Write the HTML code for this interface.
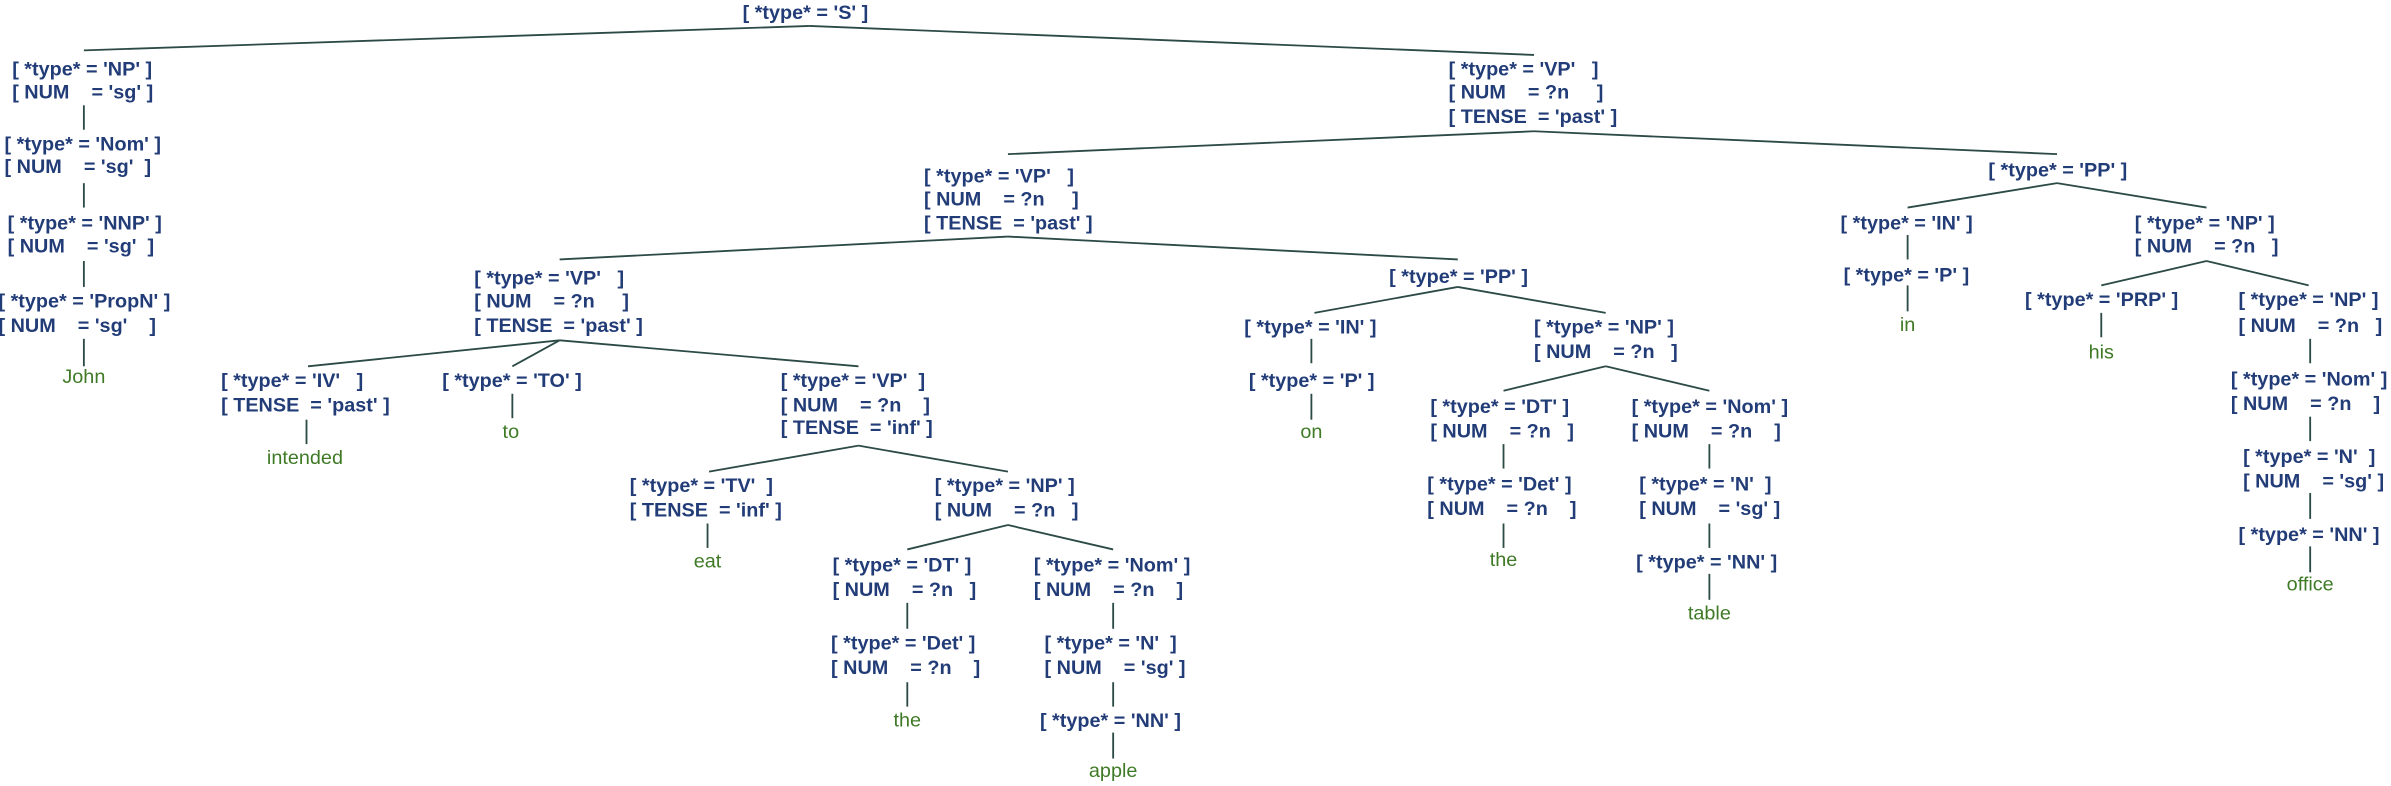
<!DOCTYPE html>
<html><head><meta charset="utf-8"><style>
html,body{margin:0;padding:0;background:#fff;}
svg{display:block;}
text{font-family:"Liberation Sans",Arial,sans-serif;font-weight:bold;font-size:13px;fill:#223c78;white-space:pre;}
text.l{font-weight:normal;fill:#3f7a26;text-anchor:middle;}
line{stroke:#2c4a46;stroke-width:1.2;}
</style></head><body>
<svg width="2391" height="786" viewBox="0 0 1568 515" preserveAspectRatio="none" xmlns="http://www.w3.org/2000/svg" xml:space="preserve">
<!-- connectors -->
<line x1="531" y1="17" x2="55" y2="33"/><line x1="531" y1="17" x2="1006" y2="36"/>
<line x1="55" y1="69" x2="55" y2="85"/><line x1="55" y1="120" x2="55" y2="136"/>
<line x1="55" y1="171" x2="55" y2="188"/><line x1="55" y1="222" x2="55" y2="240"/>
<line x1="1006" y1="86" x2="661" y2="101"/><line x1="1006" y1="86" x2="1349" y2="101"/>
<line x1="661" y1="155" x2="367" y2="170"/><line x1="661" y1="155" x2="956" y2="170"/>
<line x1="367" y1="223" x2="202" y2="240"/><line x1="367" y1="223" x2="336" y2="240"/><line x1="367" y1="223" x2="563" y2="240"/>
<line x1="201" y1="275" x2="201" y2="291"/><line x1="336" y1="258" x2="336" y2="274"/>
<line x1="563" y1="292" x2="465" y2="309"/><line x1="563" y1="292" x2="661" y2="309"/>
<line x1="464" y1="343" x2="464" y2="359"/>
<line x1="661" y1="344" x2="595" y2="360"/><line x1="661" y1="344" x2="730" y2="360"/>
<line x1="595" y1="395" x2="595" y2="412"/><line x1="595" y1="447" x2="595" y2="463"/>
<line x1="730" y1="395" x2="730" y2="412"/><line x1="730" y1="447" x2="730" y2="463"/><line x1="730" y1="480" x2="730" y2="497"/>
<line x1="956" y1="188" x2="862" y2="205"/><line x1="956" y1="188" x2="1053" y2="205"/>
<line x1="860" y1="222" x2="860" y2="238"/><line x1="860" y1="258" x2="860" y2="275"/>
<line x1="1053" y1="240" x2="986" y2="256"/><line x1="1053" y1="240" x2="1121" y2="256"/>
<line x1="986" y1="291" x2="986" y2="307"/><line x1="986" y1="343" x2="986" y2="359"/>
<line x1="1121" y1="291" x2="1121" y2="307"/><line x1="1121" y1="343" x2="1121" y2="359"/><line x1="1121" y1="376" x2="1121" y2="393"/>
<line x1="1349" y1="120" x2="1251" y2="136"/><line x1="1349" y1="120" x2="1447" y2="136"/>
<line x1="1251" y1="154" x2="1251" y2="170"/><line x1="1251" y1="187" x2="1251" y2="204"/>
<line x1="1447" y1="171" x2="1378" y2="187"/><line x1="1447" y1="171" x2="1514" y2="187"/>
<line x1="1378" y1="205" x2="1378" y2="221"/>
<line x1="1515" y1="222" x2="1515" y2="238"/><line x1="1515" y1="273" x2="1515" y2="289"/>
<line x1="1515" y1="323" x2="1515" y2="340"/><line x1="1515" y1="358" x2="1515" y2="375"/>

<!-- root -->
<text x="487" y="12.5">[ *type* = 'S' ]</text>
<!-- left chain -->
<text x="8" y="49.5">[ *type* = 'NP' ]</text><text x="8" y="64.5">[ NUM    = 'sg' ]</text>
<text x="3" y="98.5">[ *type* = 'Nom' ]</text><text x="3" y="113.5">[ NUM    = 'sg'  ]</text>
<text x="5" y="150.5">[ *type* = 'NNP' ]</text><text x="5" y="165.5">[ NUM    = 'sg'  ]</text>
<text x="-1" y="201.5">[ *type* = 'PropN' ]</text><text x="-1" y="217.5">[ NUM    = 'sg'    ]</text>
<text class="l" x="55" y="251">John</text>
<!-- VP top -->
<text x="950" y="49.5">[ *type* = 'VP'   ]</text><text x="950" y="64.5">[ NUM    = ?n     ]</text><text x="950" y="80.5">[ TENSE  = 'past' ]</text>
<!-- VP2 -->
<text x="606" y="119.5">[ *type* = 'VP'   ]</text><text x="606" y="134.5">[ NUM    = ?n     ]</text><text x="606" y="150.5">[ TENSE  = 'past' ]</text>
<!-- VP3 -->
<text x="311" y="186.5">[ *type* = 'VP'   ]</text><text x="311" y="201.5">[ NUM    = ?n     ]</text><text x="311" y="217.5">[ TENSE  = 'past' ]</text>
<!-- IV -->
<text x="145" y="253.5">[ *type* = 'IV'   ]</text><text x="145" y="269.5">[ TENSE  = 'past' ]</text>
<text class="l" x="200" y="304">intended</text>
<!-- TO -->
<text x="290" y="253.5">[ *type* = 'TO' ]</text>
<text class="l" x="335" y="287">to</text>
<!-- VP4 -->
<text x="512" y="253.5">[ *type* = 'VP'  ]</text><text x="512" y="269.5">[ NUM    = ?n    ]</text><text x="512" y="284.5">[ TENSE  = 'inf' ]</text>
<!-- TV -->
<text x="413" y="322.5">[ *type* = 'TV'  ]</text><text x="413" y="338.5">[ TENSE  = 'inf' ]</text>
<text class="l" x="464" y="372">eat</text>
<!-- NP -->
<text x="613" y="322.5">[ *type* = 'NP' ]</text><text x="613" y="338.5">[ NUM    = ?n   ]</text>
<text x="546" y="374.5">[ *type* = 'DT' ]</text><text x="546" y="390.5">[ NUM    = ?n   ]</text>
<text x="545" y="425.5">[ *type* = 'Det' ]</text><text x="545" y="441.5">[ NUM    = ?n    ]</text>
<text class="l" x="595" y="476">the</text>
<text x="678" y="374.5">[ *type* = 'Nom' ]</text><text x="678" y="390.5">[ NUM    = ?n    ]</text>
<text x="685" y="425.5">[ *type* = 'N'  ]</text><text x="685" y="441.5">[ NUM    = 'sg' ]</text>
<text x="682" y="476.5">[ *type* = 'NN' ]</text>
<text class="l" x="730" y="509">apple</text>
<!-- PP2 -->
<text x="911" y="185.5">[ *type* = 'PP' ]</text>
<text x="816" y="218.5">[ *type* = 'IN' ]</text>
<text x="819" y="253.5">[ *type* = 'P' ]</text>
<text class="l" x="860" y="287">on</text>
<text x="1006" y="218.5">[ *type* = 'NP' ]</text><text x="1006" y="234.5">[ NUM    = ?n   ]</text>
<text x="938" y="270.5">[ *type* = 'DT' ]</text><text x="938" y="286.5">[ NUM    = ?n   ]</text>
<text x="936" y="321.5">[ *type* = 'Det' ]</text><text x="936" y="337.5">[ NUM    = ?n    ]</text>
<text class="l" x="986" y="371">the</text>
<text x="1070" y="270.5">[ *type* = 'Nom' ]</text><text x="1070" y="286.5">[ NUM    = ?n    ]</text>
<text x="1075" y="321.5">[ *type* = 'N'  ]</text><text x="1075" y="337.5">[ NUM    = 'sg' ]</text>
<text x="1073" y="372.5">[ *type* = 'NN' ]</text>
<text class="l" x="1121" y="406">table</text>
<!-- PP right -->
<text x="1304" y="115.5">[ *type* = 'PP' ]</text>
<text x="1207" y="150.5">[ *type* = 'IN' ]</text>
<text x="1209" y="184.5">[ *type* = 'P' ]</text>
<text class="l" x="1251" y="217">in</text>
<text x="1400" y="150.5">[ *type* = 'NP' ]</text><text x="1400" y="165.5">[ NUM    = ?n   ]</text>
<text x="1328" y="200.5">[ *type* = 'PRP' ]</text>
<text class="l" x="1378" y="235">his</text>
<text x="1468" y="200.5">[ *type* = 'NP' ]</text><text x="1468" y="217.5">[ NUM    = ?n   ]</text>
<text x="1463" y="252.5">[ *type* = 'Nom' ]</text><text x="1463" y="268.5">[ NUM    = ?n    ]</text>
<text x="1471" y="303.5">[ *type* = 'N'  ]</text><text x="1471" y="319.5">[ NUM    = 'sg' ]</text>
<text x="1468" y="354.5">[ *type* = 'NN' ]</text>
<text class="l" x="1515" y="387">office</text>
</svg>
</body></html>
